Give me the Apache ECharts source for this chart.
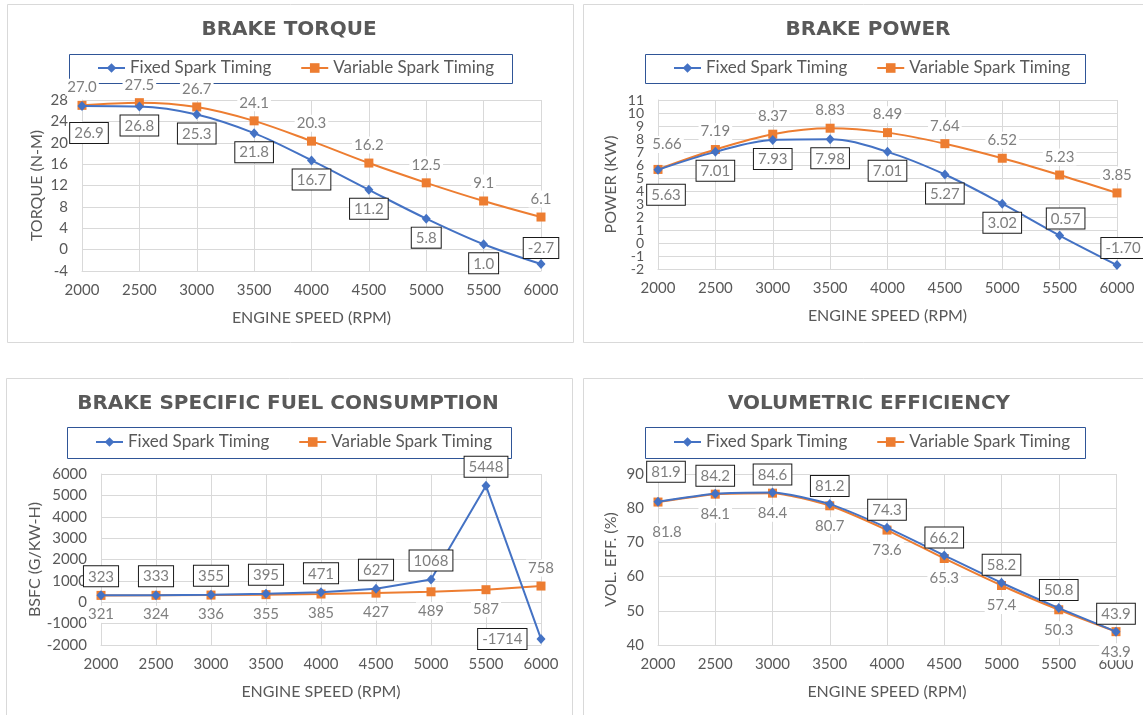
<!DOCTYPE html>
<html>
<head>
<meta charset="utf-8">
<script src="https://cdn.jsdelivr.net/npm/echarts@6/dist/echarts.min.js"></script>
<style>
  html, body { margin: 0; padding: 0; background: #fff; }
  #main { width: 1143px; height: 715px; }
</style>
</head>
<body>
<div id="main"></div>
<script>
// engine speeds (x values, shared by all four charts)
var rpm = [2000, 2500, 3000, 3500, 4000, 4500, 5000, 5500, 6000]

// brake torque (N-m)
var torqueFixed = [26.9, 26.8, 25.3, 21.8, 16.7, 11.2, 5.8, 1.0, -2.7]
var torqueVariable = [27.0, 27.5, 26.7, 24.1, 20.3, 16.2, 12.5, 9.1, 6.1]

// brake power (kW)
var powerFixed = [5.63, 7.01, 7.93, 7.98, 7.01, 5.27, 3.02, 0.57, -1.70]
var powerVariable = [5.66, 7.19, 8.37, 8.83, 8.49, 7.64, 6.52, 5.23, 3.85]

// brake specific fuel consumption (g/kW-h)
var bsfcFixed = [323, 333, 355, 395, 471, 627, 1068, 5448, -1714]
var bsfcVariable = [321, 324, 336, 355, 385, 427, 489, 587, 758]

// volumetric efficiency (%)
var veFixed = [81.9, 84.2, 84.6, 81.2, 74.3, 66.2, 58.2, 50.8, 43.9]
var veVariable = [81.8, 84.1, 84.4, 80.7, 73.6, 65.3, 57.4, 50.3, 43.9]

// y axis ticks: [min, max, interval]
var torqueTicks = [-4, 28, 4]
var powerTicks = [-2, 11, 1]
var bsfcTicks = [-2000, 6000, 1000]
var veTicks = [40, 90, 10]

var FONT = 'Lato'
var BLUE = '#4472c4'
var ORANGE = '#ed7d31'
var GRID_COLOR = '#d9d9d9'
var TEXT = '#595959'
var LABEL = '#7f7f7f'

var chart = echarts.init(document.getElementById('main'))

// panel layout (pixels)
var panels = [
  { title: 'BRAKE TORQUE', yName: 'TORQUE (N-M)', ticks: torqueTicks, dec: 1,
    cx: 289, top: 20, grid: { left: 82, top: 100, width: 459, height: 171 },
    legendBox: [69, 54, 443, 29], legendLeft: 97, yGap: 37, smooth: 0.35 },
  { title: 'BRAKE POWER', yName: 'POWER (KW)', ticks: powerTicks, dec: 2,
    cx: 868, top: 20, grid: { left: 658, top: 100, width: 459, height: 169 },
    legendBox: [645, 54, 440, 29], legendLeft: 673, yGap: 39, smooth: 0.35 },
  { title: 'BRAKE SPECIFIC FUEL CONSUMPTION', yName: 'BSFC (G/KW-H)', ticks: bsfcTicks, dec: 0,
    cx: 288, top: 394, grid: { left: 101, top: 474, width: 440, height: 171 },
    legendBox: [67, 427, 444, 31], legendLeft: 95, yGap: 58, smooth: false },
  { title: 'VOLUMETRIC EFFICIENCY', yName: 'VOL. EFF. (%)', ticks: veTicks, dec: 1,
    cx: 869, top: 394, grid: { left: 658, top: 474, width: 458, height: 171 },
    legendBox: [645, 427, 440, 31], legendLeft: 673, yGap: 39, smooth: 0.2 }
]

var boxLabel = {
  show: true, color: LABEL, fontFamily: FONT, fontSize: 15,
  backgroundColor: '#fff', borderColor: '#1a1a1a', borderWidth: 1,
  padding: [3, 4, 2, 4]
}
var plainLabel = {
  show: true, color: LABEL, fontFamily: FONT, fontSize: 15,
  backgroundColor: '#fff', padding: [1, 2]
}

function makeSeries(name, values, idx, fixed, position, distance, overrides) {
  var p = panels[idx]
  var base = fixed ? boxLabel : plainLabel
  return {
    name: name,
    type: 'line',
    xAxisIndex: idx,
    yAxisIndex: idx,
    smooth: p.smooth,
    symbol: fixed ? 'diamond' : 'rect',
    symbolSize: fixed ? [9, 10] : 9,
    color: fixed ? BLUE : ORANGE,
    lineStyle: { width: 2, color: fixed ? BLUE : ORANGE },
    itemStyle: { color: fixed ? BLUE : ORANGE },
    z: fixed ? 3 : 2,
    label: Object.assign({}, base, {
      position: position,
      distance: distance,
      formatter: function (d) { return d.value[1].toFixed(p.dec) }
    }),
    data: values.map(function (v, i) {
      var item = { value: [rpm[i], v] }
      if (overrides && overrides[i]) item.label = overrides[i]
      return item
    })
  }
}

var series = [
  makeSeries('Fixed Spark Timing', torqueFixed, 0, true, 'bottom', 4,
    { 0: { distance: 12, offset: [7, 0] }, 8: { position: 'top', distance: 1 } }),
  makeSeries('Variable Spark Timing', torqueVariable, 0, false, 'top', 5),

  makeSeries('Fixed Spark Timing', powerFixed, 1, true, 'bottom', 4,
    { 0: { distance: 10, offset: [8, 0] },
      7: { position: 'top', distance: 2, offset: [6, 0] },
      8: { position: 'top', distance: 2, offset: [6, 0] } }),
  makeSeries('Variable Spark Timing', powerVariable, 1, false, 'top', 5,
    { 0: { distance: 12, offset: [9, 0] } }),

  makeSeries('Fixed Spark Timing', bsfcFixed, 2, true, 'top', 4,
    { 8: { position: 'left', distance: 10 } }),
  makeSeries('Variable Spark Timing', bsfcVariable, 2, false, 'bottom', 6,
    { 8: { position: 'top', distance: 5 } }),

  makeSeries('Fixed Spark Timing', veFixed, 3, true, 'top', 3,
    { 0: { distance: 15, offset: [8, 0] } }),
  makeSeries('Variable Spark Timing', veVariable, 3, false, 'bottom', 7,
    { 0: { distance: 17, offset: [9, 0] } })
]

var graphics = [
  // chart area borders
  { type: 'rect', shape: { x: 7.5, y: 4.5, width: 566, height: 338 } },
  { type: 'rect', shape: { x: 583.5, y: 4.5, width: 570, height: 338 } },
  { type: 'rect', shape: { x: 6.5, y: 378.5, width: 566, height: 345 } },
  { type: 'rect', shape: { x: 583.5, y: 378.5, width: 570, height: 345 } }
].map(function (g) {
  g.silent = true
  g.z = -10
  g.style = { fill: 'none', stroke: GRID_COLOR, lineWidth: 1 }
  return g
})

panels.forEach(function (p) {
  var b = p.legendBox
  graphics.push({
    type: 'rect', silent: true, z: -5,
    shape: { x: b[0] + 0.5, y: b[1] + 0.5, width: b[2], height: b[3] },
    style: { fill: 'none', stroke: '#2f5597', lineWidth: 1 }
  })
})

var yAxes = panels.map(function (p, i) {
  // power ticks are packed tight; its end labels come from a helper axis below
  var tight = i === 1
  return {
    gridIndex: i,
    type: 'value',
    min: p.ticks[0],
    max: p.ticks[1],
    interval: p.ticks[2],
    name: p.yName,
    nameLocation: 'middle',
    nameGap: p.yGap,
    nameTextStyle: { fontFamily: FONT, fontSize: 16, color: TEXT },
    axisLine: { show: true, onZero: false, lineStyle: { color: GRID_COLOR } },
    axisTick: { show: false },
    axisLabel: {
      fontFamily: FONT, fontSize: tight ? 14 : 15, color: TEXT, margin: 14,
      showMinLabel: !tight, showMaxLabel: !tight,
      formatter: function (v) { return String(v) }
    },
    splitLine: { show: true, lineStyle: { color: GRID_COLOR } }
  }
})
// helper axis on the power grid: same scale, shows only the end ticks
yAxes.push({
  gridIndex: 1,
  type: 'value',
  position: 'left',
  min: powerTicks[0],
  max: powerTicks[1],
  interval: powerTicks[1] - powerTicks[0],
  axisLine: { show: false, onZero: false },
  axisTick: { show: false },
  splitLine: { show: false },
  axisLabel: {
    fontFamily: FONT, fontSize: 14, color: TEXT, margin: 14,
    showMinLabel: true, showMaxLabel: true,
    formatter: function (v) { return String(v) }
  }
})

var option = {
  backgroundColor: '#fff',
  animation: false,
  textStyle: { fontFamily: FONT },
  title: panels.map(function (p) {
    return {
      text: p.title,
      left: p.cx,
      top: p.top,
      textAlign: 'center',
      padding: 0,
      textStyle: { fontFamily: 'DejaVu Sans', fontWeight: 'bold', fontSize: 20, color: TEXT }
    }
  }),
  legend: panels.map(function (p) {
    return {
      data: ['Fixed Spark Timing', 'Variable Spark Timing'],
      left: p.legendLeft,
      top: p.legendBox[1] + p.legendBox[3] / 2 - 9,
      padding: 0,
      itemGap: 29,
      itemWidth: 27,
      itemHeight: 12,
      textStyle: { fontFamily: FONT, fontSize: 17, color: TEXT }
    }
  }),
  grid: panels.map(function (p) { return p.grid }),
  xAxis: panels.map(function (p, i) {
    return {
      gridIndex: i,
      type: 'value',
      min: 2000,
      max: 6000,
      interval: 500,
      name: 'ENGINE SPEED (RPM)',
      nameLocation: 'middle',
      nameGap: 39,
      nameTextStyle: { fontFamily: FONT, fontSize: 16, color: TEXT },
      axisLine: { onZero: false, lineStyle: { color: GRID_COLOR } },
      axisTick: { show: false },
      axisLabel: {
        fontFamily: FONT, fontSize: 15, color: TEXT, margin: 12,
        showMinLabel: true, showMaxLabel: true,
        formatter: function (v) { return String(v) }
      },
      splitLine: { show: true, lineStyle: { color: GRID_COLOR } }
    }
  }),
  yAxis: yAxes,
  graphic: graphics,
  series: series
}

chart.setOption(option)
</script>
</body>
</html>
